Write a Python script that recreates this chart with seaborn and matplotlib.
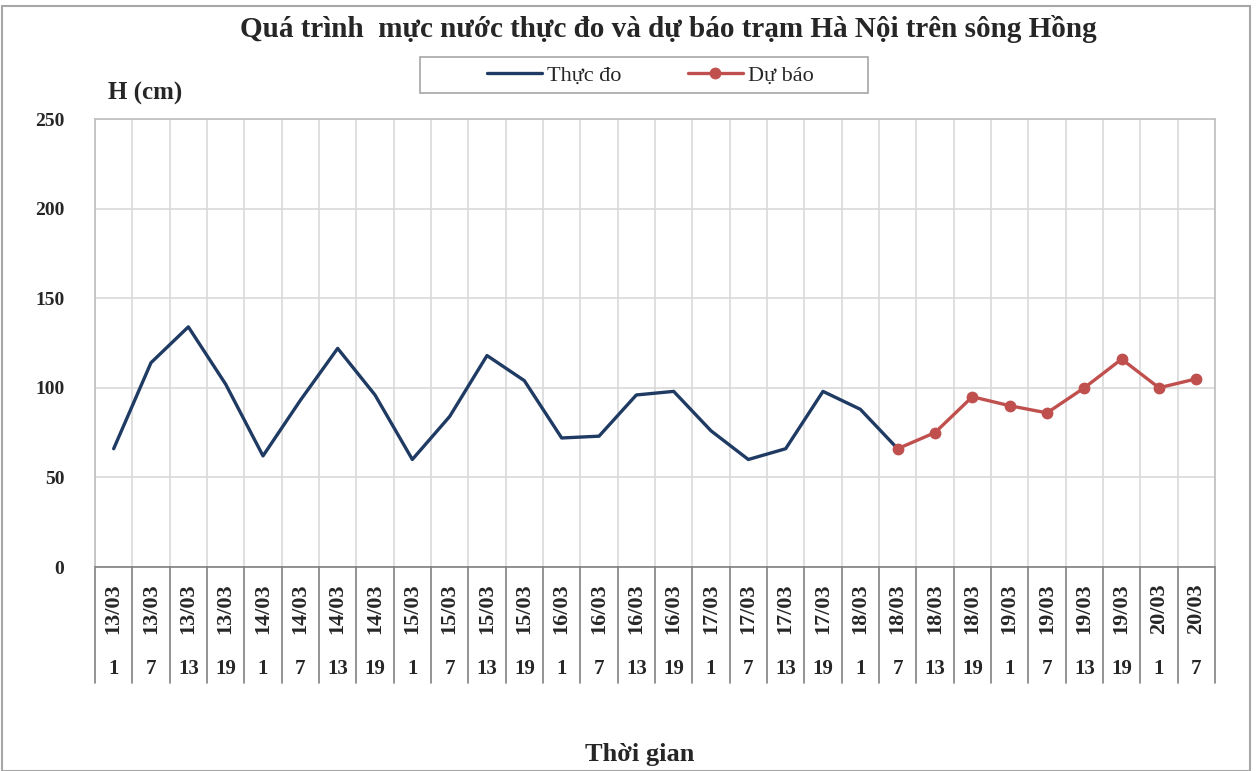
import numpy as np
import pandas as pd
import matplotlib
matplotlib.use("Agg")
import matplotlib.pyplot as plt
import matplotlib.transforms as mtransforms
from matplotlib.patches import Rectangle
import seaborn as sns

# Data
dates = ["13/03"] * 4 + ["14/03"] * 4 + ["15/03"] * 4 + ["16/03"] * 4 + \
        ["17/03"] * 4 + ["18/03"] * 4 + ["19/03"] * 4 + ["20/03"] * 2
hours = ["1", "7", "13", "19"] * 7 + ["1", "7"]
observed = [66, 114, 134, 102, 62, 93, 122, 96, 60, 84, 118, 104,
            72, 73, 96, 98, 76, 60, 66, 98, 88, 66]
forecast = [66, 75, 95, 90, 86, 100, 116, 100, 105]
forecast_start = 21  # 18/03 7h

obs_df = pd.DataFrame({"pos": np.arange(len(observed)), "H": observed})
fc_df = pd.DataFrame({"pos": np.arange(forecast_start, forecast_start + len(forecast)), "H": forecast})

sns.set_style("white")
plt.rcParams["font.family"] = ["Liberation Serif", "DejaVu Serif"]

W, H = 1256, 771
fig = plt.figure(figsize=(W / 100, H / 100), dpi=100)
ax = fig.add_axes([95 / W, 1 - 567 / H, (1215 - 95) / W, (567 - 119) / H])

navy = "#1F3B63"
red = "#C0504D"
sns.lineplot(data=obs_df, x="pos", y="H", ax=ax, color=navy, linewidth=2.4, label="Thực đo")
sns.lineplot(data=fc_df, x="pos", y="H", ax=ax, color=red, linewidth=2.4,
             marker="o", markersize=8.5, markeredgewidth=0, label="Dự báo")

n = len(dates)
ax.set_xlim(-0.5, n - 0.5)
ax.set_ylim(0, 250)
ax.set_yticks(range(0, 251, 50))
ax.set_xticks(np.arange(-0.5, n, 1.0))
ax.set_xticklabels([])
ax.tick_params(axis="x", length=0)
ax.tick_params(axis="y", length=0, pad=22)
for lab in ax.get_yticklabels():
    lab.set_fontweight("bold")
    lab.set_fontsize(14)
ax.grid(True, color="#D9D9D9", linewidth=1.2)
for s in ax.spines.values():
    s.set_color("#BFBFBF")
    s.set_linewidth(1.2)
ax.spines["bottom"].set_color("#808080")
ax.set_xlabel("")
ax.set_ylabel("")

# two-level category labels below the axis
trans = mtransforms.blended_transform_factory(ax.transData, ax.transAxes)
low = -(683 - 567) / (567 - 119)
for k in range(n + 1):
    ax.plot([k - 0.5, k - 0.5], [0, low], transform=trans, color="#808080",
            linewidth=1.2, clip_on=False)
for i, (d, h) in enumerate(zip(dates, hours)):
    ax.text(i, -(609 - 567) / 448, d, transform=trans, rotation=90, ha="center",
            va="center", fontsize=16, fontweight="bold")
    ax.text(i, -(669 - 567) / 448, h, transform=trans, ha="center",
            va="center", fontsize=15, fontweight="bold")

fig.text(668 / W, 1 - 29 / H, "Quá trình  mực nước thực đo và dự báo trạm Hà Nội trên sông Hồng",
         ha="center", va="center", fontsize=21, fontweight="bold")
fig.text(108 / W, 1 - 93 / H, "H (cm)", ha="left", va="center", fontsize=18, fontweight="bold")
fig.text(640 / W, 1 - 754 / H, "Thời gian", ha="center", va="center", fontsize=19, fontweight="bold")

# legend: frame drawn separately to match the wide box of the reference
fig.patches.append(Rectangle((420 / W, 1 - 93 / H), 448 / W, 36 / H, transform=fig.transFigure,
                             fill=False, edgecolor="#A6A6A6", linewidth=1.2))
leg = ax.legend(loc="center", bbox_to_anchor=(650 / W, 1 - 76 / H),
                bbox_transform=fig.transFigure, ncol=2, frameon=False,
                fontsize=16, handlelength=2.5, columnspacing=3.0, handletextpad=0.2)

# outer frame of the chart
fig.patches.append(Rectangle((2 / W, 0), 1 - 8 / W, 1 - 6 / H, transform=fig.transFigure,
                             fill=False, edgecolor="#A6A6A6", linewidth=1.5))

fig.savefig("out.png", dpi=100)
